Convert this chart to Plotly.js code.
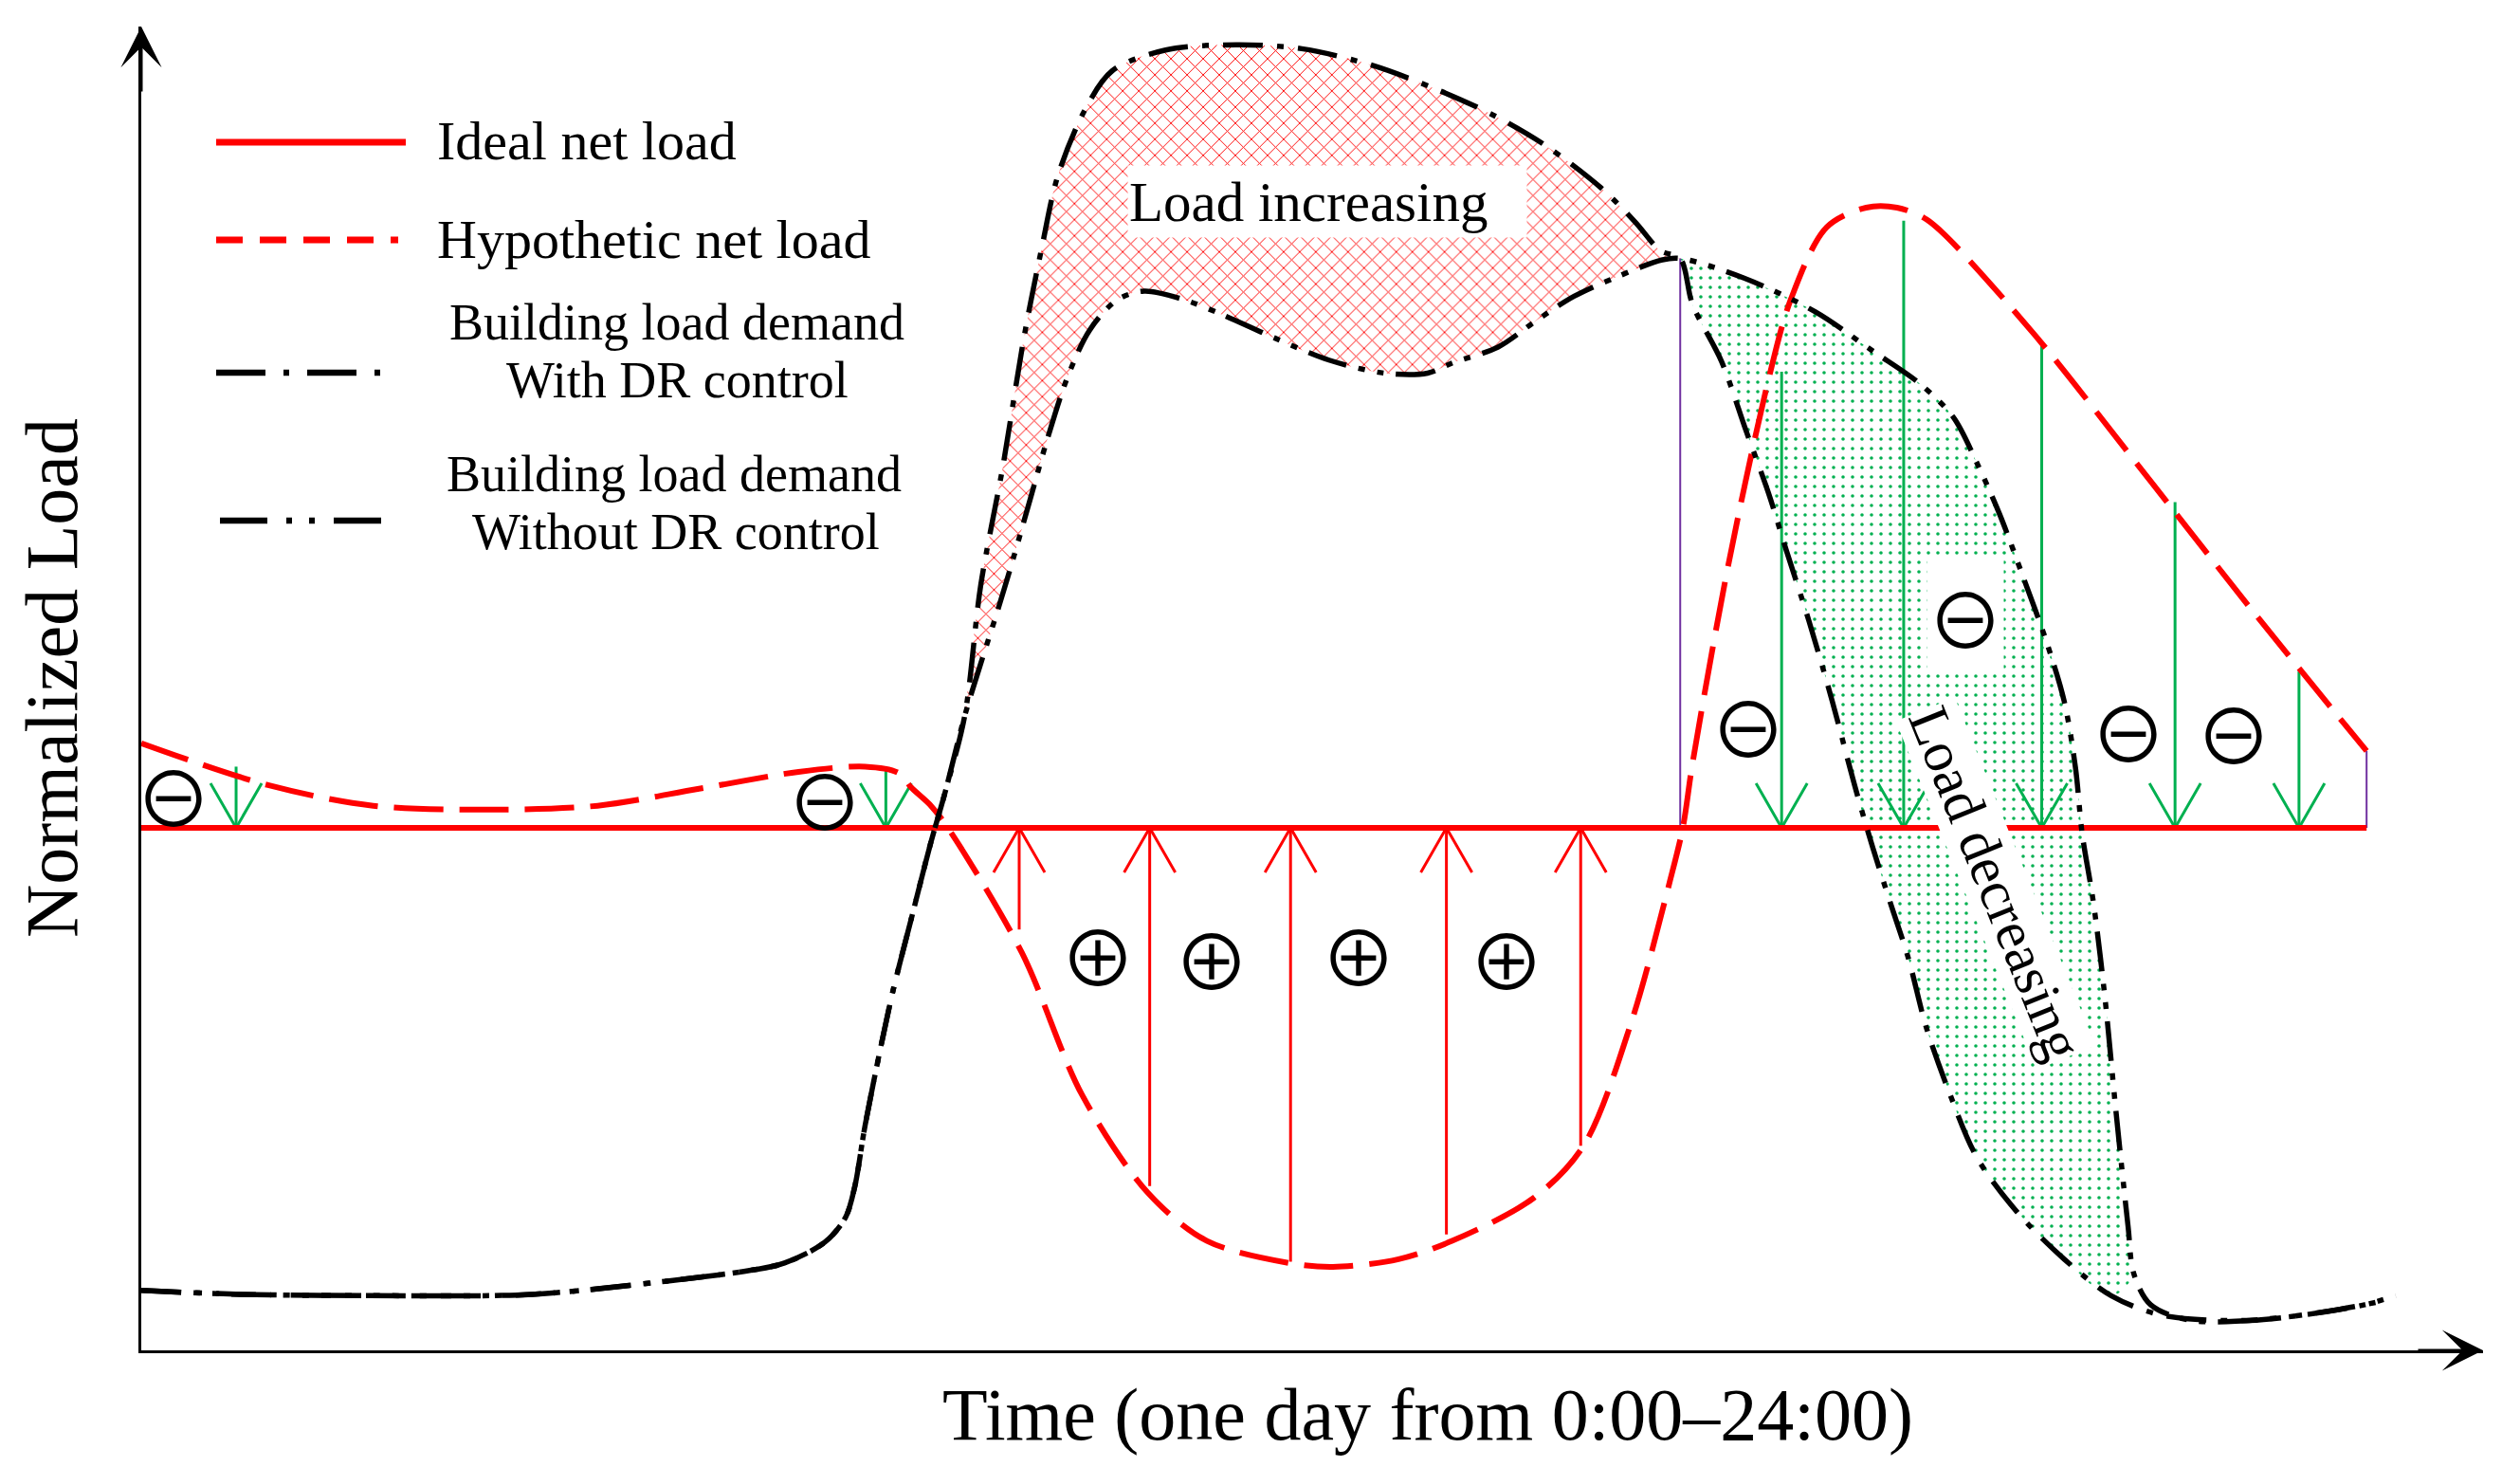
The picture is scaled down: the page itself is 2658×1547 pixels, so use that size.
<!DOCTYPE html>
<html>
<head>
<meta charset="utf-8">
<script src="https://cdn.plot.ly/plotly-3.0.1.min.js"></script>
<style>
html, body { margin: 0; padding: 0; background: #ffffff; }
#chart { width: 2658px; height: 1547px; }
</style>
</head>
<body>
<div id="chart"></div>
<script>
// ================= DATA (time in hours 0-24, normalized load) =================
const idealTime = [0, 23.70];
const idealLoad = [0.401, 0.401];

const hypoTime = [0.00, 1.34, 2.47, 3.73, 4.86, 5.94, 7.00, 7.71, 8.07, 8.20, 8.41, 8.60, 9.38, 10.02, 10.72, 11.35, 12.23, 12.69, 13.39, 13.96, 14.83, 15.36, 15.87, 16.28, 16.42, 16.52, 16.90, 17.33, 17.57, 17.95, 18.37, 18.70, 18.99, 19.21, 20.17, 21.27, 22.47, 23.70];
const hypoLoad = [0.466, 0.434, 0.418, 0.415, 0.418, 0.431, 0.444, 0.448, 0.443, 0.432, 0.418, 0.400, 0.305, 0.196, 0.121, 0.084, 0.067, 0.064, 0.070, 0.084, 0.117, 0.157, 0.252, 0.360, 0.402, 0.450, 0.602, 0.745, 0.807, 0.862, 0.877, 0.877, 0.869, 0.856, 0.779, 0.679, 0.569, 0.460];

// night + morning ramp, where both building-demand curves coincide
const sharedTime = [0.00, 1.06, 2.43, 4.16, 5.58, 6.54, 6.85, 7.28, 7.50, 7.60, 7.71, 7.99, 8.20, 8.41, 8.56, 8.77];
const sharedLoad = [0.046, 0.043, 0.042, 0.043, 0.053, 0.062, 0.067, 0.083, 0.102, 0.126, 0.173, 0.271, 0.331, 0.390, 0.428, 0.487];

// with DR control: midday (load increasing) up to the junction
const withPeakTime = [8.94, 9.18, 9.40, 9.59, 9.76, 10.05, 10.34, 10.91, 11.66, 12.36, 13.12, 13.82, 14.40, 14.97, 15.55, 15.91, 16.18, 16.39];
const withPeakLoad = [0.587, 0.680, 0.777, 0.846, 0.901, 0.952, 0.982, 0.998, 1.002, 0.999, 0.986, 0.967, 0.948, 0.924, 0.892, 0.866, 0.844, 0.838];

// without DR control: midday up to the junction
const withoutDipTime = [8.94, 9.13, 9.30, 9.47, 9.64, 9.86, 10.10, 10.39, 10.68, 11.08, 11.51, 12.07, 12.65, 13.24, 13.70, 13.97, 14.45, 14.85, 15.26, 15.72, 16.20, 16.39];
const withoutDipLoad = [0.527, 0.570, 0.611, 0.654, 0.697, 0.746, 0.783, 0.806, 0.813, 0.807, 0.795, 0.777, 0.760, 0.750, 0.750, 0.758, 0.770, 0.790, 0.809, 0.824, 0.837, 0.838];

// with DR control: evening (load decreasing)
const withEveningTime = [16.52, 16.83, 17.09, 17.33, 17.52, 17.76, 18.01, 18.25, 18.44, 18.63, 18.82, 19.01, 19.25, 19.55, 19.98, 20.48, 20.98, 21.52, 22.45, 23.37, 23.94];
const withEveningLoad = [0.803, 0.759, 0.706, 0.658, 0.614, 0.560, 0.498, 0.433, 0.386, 0.343, 0.301, 0.248, 0.199, 0.148, 0.106, 0.070, 0.042, 0.027, 0.023, 0.031, 0.039];

// without DR control: evening
const withoutEveningTime = [17.07, 17.83, 18.44, 18.94, 19.30, 19.55, 19.79, 20.05, 20.29, 20.48, 20.60, 20.67, 20.79, 20.91, 21.03, 21.16, 21.22, 21.40, 21.83, 22.77, 23.68, 24.01];
const withoutEveningLoad = [0.823, 0.797, 0.767, 0.742, 0.716, 0.681, 0.642, 0.592, 0.544, 0.498, 0.447, 0.397, 0.344, 0.273, 0.184, 0.095, 0.059, 0.035, 0.023, 0.025, 0.035, 0.042];

// difference arrows (hypothetic load -> ideal load)
const downArrowTime = [1.01, 7.93, 17.47, 18.77, 20.24, 21.66, 22.98];
const downArrowFrom = [0.448, 0.448, 0.751, 0.867, 0.771, 0.651, 0.521];
const upArrowTime = [9.35, 10.74, 12.24, 13.90, 15.33];
const upArrowFrom = [0.323, 0.126, 0.068, 0.089, 0.157];

const legendNames = ['Ideal net load', 'Hypothetic net load', 'Building load demand', 'With DR control', 'Building load demand', 'Without DR control'];

// ================= LAYOUT / STYLE =================
const W = 2658, H = 1547;
const M = { l: 149, r: 39, t: 28, b: 123 };
const PW = W - M.l - M.r, PH = H - M.t - M.b;
const xRange = [0, 24.94], yRange = [0, 1.016];
const pxPerHour = PW / (xRange[1] - xRange[0]);
const pxPerUnit = PH / (yRange[1] - yRange[0]);
const pX = v => (v - M.l) / PW;
const pY = v => (H - M.b - v) / PH;

const SERIF = 'Liberation Serif, Times New Roman, serif';
const RED = '#ff0000', GREEN = '#00b050', PURPLE = '#7030a0', BLACK = '#000000';
const DASH_HYPO = '52px,17px';
const DASH_WITH = '42px,15px,7px,15px';
const DASH_WITHOUT = '42px,13px,7px,13px,7px,13px';

const ideal = idealLoad[0];
const withTime = sharedTime.concat(withPeakTime, withEveningTime);
const withLoad = sharedLoad.concat(withPeakLoad, withEveningLoad);
const withoutTime = sharedTime.concat(withoutDipTime, withoutEveningTime);
const withoutLoad = sharedLoad.concat(withoutDipLoad, withoutEveningLoad);

const jT = withPeakTime[withPeakTime.length - 1];
const jY = withPeakLoad[withPeakLoad.length - 1];

// polygon for "Load increasing"
const incX = [sharedTime[sharedTime.length - 1]].concat(withPeakTime, withoutDipTime.slice().reverse());
const incY = [sharedLoad[sharedLoad.length - 1]].concat(withPeakLoad, withoutDipLoad.slice().reverse());

// polygon for "Load decreasing"
const decEnd = 21.3;
const wE = withEveningTime.map((t, i) => [t, withEveningLoad[i]]).filter(p => p[0] <= decEnd);
const woE = withoutEveningTime.map((t, i) => [t, withoutEveningLoad[i]]).filter(p => p[0] <= decEnd).reverse();
const decX = [jT].concat(wE.map(p => p[0]), woE.map(p => p[0]));
const decY = [jY].concat(wE.map(p => p[1]), woE.map(p => p[1]));

// arrows
const headDx = 27 / pxPerHour, headDy = 47 / pxPerUnit;
function shafts(ts, from) {
  const x = [], y = [];
  ts.forEach((t, i) => { x.push(t, t, null); y.push(from[i], ideal, null); });
  return { x, y };
}
function heads(ts, dir) {
  const x = [], y = [];
  ts.forEach(t => { x.push(t - headDx, t, t + headDx, null); y.push(ideal + dir * headDy, ideal, ideal + dir * headDy, null); });
  return { x, y };
}
const gS = shafts(downArrowTime, downArrowFrom), gH = heads(downArrowTime, 1);
const rS = shafts(upArrowTime, upArrowFrom), rH = heads(upArrowTime, -1);

const hypoEndT = hypoTime[hypoTime.length - 1], hypoEndY = hypoLoad[hypoLoad.length - 1];

const base = { type: 'scatter', mode: 'lines', hoverinfo: 'skip', showlegend: false };
const traces = [
  Object.assign({}, base, { x: incX, y: incY, fill: 'toself', line: { width: 0, shape: 'spline' },
    fillcolor: 'rgba(255,255,255,0)',
    fillpattern: { shape: 'x', fgcolor: RED, bgcolor: '#ffffff', size: 12, solidity: 0.15 } }),
  Object.assign({}, base, { x: decX, y: decY, fill: 'toself', line: { width: 0, shape: 'spline' },
    fillcolor: 'rgba(255,255,255,0)',
    fillpattern: { shape: '.', fgcolor: GREEN, bgcolor: '#ffffff', size: 10, solidity: 0.1 } }),
  Object.assign({}, base, { x: [jT, jT, null, hypoEndT, hypoEndT], y: [ideal, jY, null, ideal, hypoEndY],
    line: { color: PURPLE, width: 2 } }),
  Object.assign({}, base, { x: gS.x, y: gS.y, line: { color: GREEN, width: 3 } }),
  Object.assign({}, base, { x: gH.x, y: gH.y, line: { color: GREEN, width: 3 } }),
  Object.assign({}, base, { x: rS.x, y: rS.y, line: { color: RED, width: 3 } }),
  Object.assign({}, base, { x: rH.x, y: rH.y, line: { color: RED, width: 3 } }),
  Object.assign({}, base, { name: legendNames[0], x: idealTime, y: idealLoad, line: { color: RED, width: 6 } }),
  Object.assign({}, base, { name: legendNames[1], x: hypoTime, y: hypoLoad, line: { color: RED, width: 6, dash: DASH_HYPO, shape: 'spline', smoothing: 0.9 } }),
  Object.assign({}, base, { name: 'With DR control', x: withTime, y: withLoad, line: { color: BLACK, width: 5.5, dash: DASH_WITH, shape: 'spline', smoothing: 0.9 } }),
  Object.assign({}, base, { name: 'Without DR control', x: withoutTime, y: withoutLoad, line: { color: BLACK, width: 5.5, dash: DASH_WITHOUT, shape: 'spline', smoothing: 0.9 } })
];

// ---------- annotations ----------
const ann = [];
// axis arrowheads
ann.push({ xref: 'paper', yref: 'paper', x: 0, y: 1, ax: 0, ay: 70, text: '', showarrow: true, arrowhead: 3, arrowsize: 2.4, arrowwidth: 3, arrowcolor: BLACK });
ann.push({ xref: 'paper', yref: 'paper', x: 1, y: 0, ax: -70, ay: 0, text: '', showarrow: true, arrowhead: 3, arrowsize: 2.4, arrowwidth: 3, arrowcolor: BLACK });
// axis titles
ann.push({ xref: 'paper', yref: 'paper', x: pX(54), y: pY(715), text: 'Normalized Load', textangle: -90, showarrow: false,
  xanchor: 'center', yanchor: 'middle', font: { family: SERIF, size: 78, color: BLACK } });
ann.push({ xref: 'paper', yref: 'paper', x: pX(1506), y: pY(1491), text: 'Time (one day from 0:00\u201324:00)', showarrow: false,
  xanchor: 'center', yanchor: 'middle', font: { family: SERIF, size: 78, color: BLACK } });

// legend texts
const LF = { family: SERIF, size: 58, color: BLACK };
const LF2 = { family: SERIF, size: 54, color: BLACK };
const legendText = (txt, x, y, anchor, f) => ({ xref: 'paper', yref: 'paper', x: pX(x), y: pY(y), text: txt, showarrow: false,
  xanchor: anchor, yanchor: 'middle', borderpad: 0, font: f });
ann.push(legendText(legendNames[0], 460, 148, 'left', LF));
ann.push(legendText(legendNames[1], 460, 253, 'left', LF));
ann.push(legendText(legendNames[2], 714, 340, 'center', LF2));
ann.push(legendText(legendNames[3], 714, 401, 'center', LF2));
ann.push(legendText(legendNames[4], 711, 500, 'center', LF2));
ann.push(legendText(legendNames[5], 713, 561, 'center', LF2));

// region labels
ann.push({ xref: 'x', yref: 'y', x: 12.63, y: 0.882, text: 'Load increasing', showarrow: false, xanchor: 'center', yanchor: 'middle',
  width: 418, height: 73, align: 'left', valign: 'middle', bgcolor: '#ffffff', borderpad: 1, font: { family: SERIF, size: 59, color: BLACK } });
ann.push({ xref: 'x', yref: 'y', x: 19.75, y: 0.358, text: 'Load decreasing', textangle: 68, showarrow: false, xanchor: 'center', yanchor: 'middle',
  bgcolor: '#ffffff', borderpad: 0, font: { family: SERIF, size: 60, color: BLACK } });

// circled signs
const SIGN = { family: 'Noto Sans CJK JP, DejaVu Sans, sans-serif', size: 80, color: BLACK };
const minusSpots = [[0.34, 0.427], [7.28, 0.424], [17.11, 0.480], [19.43, 0.564], [21.16, 0.477], [22.28, 0.475]];
const plusSpots = [[10.19, 0.305], [11.40, 0.302], [12.96, 0.305], [14.54, 0.302]];
minusSpots.forEach((p, i) => ann.push({ xref: 'x', yref: 'y', x: p[0], y: p[1], text: '\u2296', showarrow: false, xanchor: 'center', yanchor: 'middle',
  font: SIGN, bgcolor: i === 3 ? '#ffffff' : 'rgba(0,0,0,0)', borderpad: 0 }));
plusSpots.forEach(p => ann.push({ xref: 'x', yref: 'y', x: p[0], y: p[1], text: '\u2295', showarrow: false, xanchor: 'center', yanchor: 'middle', font: SIGN }));

// legend sample lines
const shapes = [
  { type: 'line', xref: 'paper', yref: 'paper', x0: pX(228), x1: pX(428), y0: pY(150), y1: pY(150), line: { color: RED, width: 7 } },
  { type: 'line', xref: 'paper', yref: 'paper', x0: pX(228), x1: pX(420), y0: pY(253), y1: pY(253), line: { color: RED, width: 7, dash: '28px,18px' } },
  { type: 'line', xref: 'paper', yref: 'paper', x0: pX(228), x1: pX(405), y0: pY(393), y1: pY(393), line: { color: BLACK, width: 6.5, dash: '52px,19px,6px,19px' } },
  { type: 'line', xref: 'paper', yref: 'paper', x0: pX(232), x1: pX(407), y0: pY(549), y1: pY(549), line: { color: BLACK, width: 6.5, dash: '50px,20px,6px,18px,6px,20px' } }
];

const axisCommon = { showline: true, linecolor: BLACK, linewidth: 3, showgrid: false, zeroline: false,
  showticklabels: false, ticks: '', fixedrange: true };

const layout = {
  width: W, height: H,
  margin: { l: M.l, r: M.r, t: M.t, b: M.b, pad: 0 },
  paper_bgcolor: '#ffffff', plot_bgcolor: '#ffffff',
  showlegend: false,
  xaxis: Object.assign({}, axisCommon, { range: xRange }),
  yaxis: Object.assign({}, axisCommon, { range: yRange }),
  annotations: ann,
  shapes: shapes,
  font: { family: SERIF, color: BLACK }
};

Plotly.newPlot('chart', traces, layout, { displayModeBar: false, staticPlot: true });
</script>
</body>
</html>
